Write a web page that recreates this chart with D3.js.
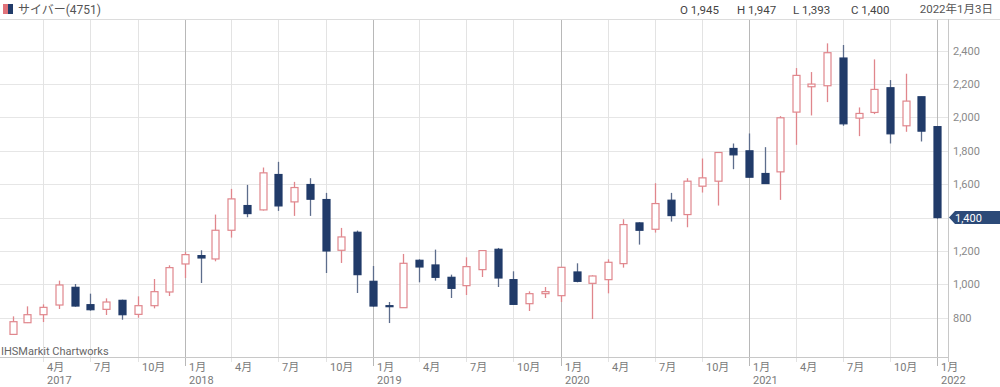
<!DOCTYPE html>
<html>
<head>
<meta charset="utf-8">
<script src="https://cdn.jsdelivr.net/npm/d3@7"></script>
<style>
  body { margin: 0; background: #fff; }
  svg { display: block; font-family: Roboto, "Noto Sans CJK JP", sans-serif; }
</style>
</head>
<body>
<script>
// monthly candles, Feb 2017 .. Jan 2022
const months = [
  "2017-02","2017-03","2017-04","2017-05","2017-06","2017-07","2017-08","2017-09","2017-10","2017-11","2017-12",
  "2018-01","2018-02","2018-03","2018-04","2018-05","2018-06","2018-07","2018-08","2018-09","2018-10","2018-11","2018-12",
  "2019-01","2019-02","2019-03","2019-04","2019-05","2019-06","2019-07","2019-08","2019-09","2019-10","2019-11","2019-12",
  "2020-01","2020-02","2020-03","2020-04","2020-05","2020-06","2020-07","2020-08","2020-09","2020-10","2020-11","2020-12",
  "2021-01","2021-02","2021-03","2021-04","2021-05","2021-06","2021-07","2021-08","2021-09","2021-10","2021-11","2021-12",
  "2022-01"
];
const open = [
  700,770,818,876,982,878,850,904,820,872,954,
  1122,1172,1152,1324,1472,1446,1658,1494,1598,1508,1204,1312,
  1018,872,860,1144,1116,1042,992,1088,1210,1028,884,944,
  932,1074,1006,1028,1124,1368,1330,1504,1418,1588,1618,1814,
  1800,1664,1674,2032,2184,2190,2356,1996,2030,2178,1950,2124,
  1945
];
const high = [
  808,868,880,1022,1002,944,916,908,928,1032,1114,
  1194,1204,1418,1572,1596,1700,1734,1614,1636,1548,1338,1322,
  1110,894,1182,1150,1208,1058,1162,1202,1218,1078,958,984,
  1102,1126,1054,1150,1390,1372,1606,1548,1636,1754,1790,1844,
  1904,1822,2008,2296,2272,2444,2434,2060,2348,2224,2262,2124,
  1947
];
const low = [
  700,768,774,852,866,842,816,788,800,856,930,
  1038,1008,1138,1280,1402,1442,1440,1410,1410,1068,1128,948,
  866,768,860,1012,1022,918,936,1044,984,878,840,918,
  894,1012,792,946,1100,1238,1310,1376,1342,1550,1472,1690,
  1640,1604,1506,1836,2012,2092,1950,1888,2020,1844,1914,1856,
  1393
];
const close = [
  776,818,862,996,870,848,894,818,872,956,1100,
  1178,1158,1324,1512,1424,1668,1470,1580,1510,1200,1284,1058,
  870,868,1126,1104,1042,976,1106,1202,1038,880,944,956,
  1102,1018,1050,1132,1358,1324,1484,1412,1618,1638,1790,1776,
  1642,1604,1998,2252,2200,2388,1962,2024,2168,1902,2098,1918,
  1400
];
const yTicks = [800, 1000, 1200, 1400, 1600, 1800, 2000, 2200, 2400];

const W = 1000, H = 387;
const plot = { left: 0, right: 948, top: 19, bottom: 357 };
const UP = "#e0868c", DOWN = "#213b69", DOWN_WICK = "#5d6d8c";

const parse = d3.timeParse("%Y-%m");
const candles = months.map((m, i) => ({
  date: parse(m), o: open[i], h: high[i], l: low[i], c: close[i]
}));

const x = d3.scaleTime()
  .domain([new Date(2017, 3, 1), new Date(2022, 0, 1)])
  .range([43.3, 937.3]);
const y = d3.scaleLinear()
  .domain([800, 2400])
  .range([317.7, 50.7]);

const svg = d3.select("body").append("svg")
  .attr("width", W)
  .attr("height", H);

// horizontal grid
svg.append("g")
  .selectAll("line")
  .data(yTicks)
  .join("line")
  .attr("x1", plot.left).attr("x2", plot.right)
  .attr("y1", d => Math.round(y(d)) + 0.5).attr("y2", d => Math.round(y(d)) + 0.5)
  .attr("stroke", "#e6e6e6");

// vertical grid, quarterly, January lines darker
const qTicks = d3.timeMonth.every(3).range(new Date(2017, 3, 1), new Date(2022, 0, 2));
svg.append("g")
  .selectAll("line")
  .data(qTicks)
  .join("line")
  .attr("x1", d => Math.round(x(d)) + 0.5).attr("x2", d => Math.round(x(d)) + 0.5)
  .attr("y1", plot.top).attr("y2", d => d.getMonth() === 0 ? plot.bottom + 9 : plot.bottom + 5)
  .attr("stroke", d => d.getMonth() === 0 ? "#b8b8b8" : "#e3e3e3");

// frame lines
svg.append("line")
  .attr("x1", 0).attr("x2", W).attr("y1", plot.top + 0.5).attr("y2", plot.top + 0.5)
  .attr("stroke", "#dcdcdc");
svg.append("line")
  .attr("x1", 0).attr("x2", plot.right).attr("y1", plot.bottom + 0.5).attr("y2", plot.bottom + 0.5)
  .attr("stroke", "#c8c8c8");
svg.append("line")
  .attr("x1", plot.right + 0.5).attr("x2", plot.right + 0.5).attr("y1", plot.top).attr("y2", plot.bottom + 5)
  .attr("stroke", "#c8c8c8");

// y labels
svg.append("g")
  .selectAll("text")
  .data(yTicks)
  .join("text")
  .attr("x", plot.right + 5)
  .attr("y", d => y(d) + 4)
  .attr("font-size", 11)
  .attr("fill", "#8a8a8a")
  .text(d => d3.format(",")(d));

// x labels
const xl = svg.append("g")
  .selectAll("g")
  .data(qTicks)
  .join("g")
  .attr("transform", d => `translate(${Math.round(x(d)) + 4},0)`);
xl.append("text")
  .attr("y", 371)
  .attr("font-size", 11)
  .attr("fill", "#7a7a7a")
  .text(d => (d.getMonth() + 1) + "月");
xl.filter((d, i) => i === 0 || d.getMonth() === 0)
  .append("text")
  .attr("y", 384)
  .attr("font-size", 11)
  .attr("fill", "#7a7a7a")
  .text(d => d.getFullYear());

// candles
const bw = 7;
const cg = svg.append("g")
  .selectAll("g")
  .data(candles)
  .join("g")
  .attr("transform", d => `translate(${Math.round(x(d.date))},0)`);
cg.append("line")
  .attr("x1", 0.5).attr("x2", 0.5)
  .attr("y1", d => y(d.h)).attr("y2", d => y(d.l))
  .attr("stroke", d => d.c >= d.o ? UP : DOWN_WICK)
  .attr("stroke-width", 1.3);
cg.append("rect")
  .attr("x", -bw / 2 + 0.5)
  .attr("y", d => y(Math.max(d.o, d.c)))
  .attr("width", bw)
  .attr("height", d => Math.max(1, Math.abs(y(d.o) - y(d.c))))
  .attr("fill", d => d.c >= d.o ? "#fff" : DOWN)
  .attr("stroke", d => d.c >= d.o ? UP : DOWN)
  .attr("stroke-width", 1.2);

// last price badge
const last = candles[candles.length - 1];
const ly = y(last.c);
svg.append("path")
  .attr("d", `M${plot.right + 1},${ly} L${plot.right + 7},${ly - 6.5} L${W},${ly - 6.5} L${W},${ly + 6.5} L${plot.right + 7},${ly + 6.5} Z`)
  .attr("fill", "#2c4a78");
svg.append("text")
  .attr("x", plot.right + 7)
  .attr("y", ly + 4)
  .attr("font-size", 11)
  .attr("fill", "#fff")
  .text(d3.format(",")(last.c));

// header
svg.append("rect").attr("x", 3).attr("y", 4).attr("width", 5).attr("height", 10).attr("fill", "#e0727a");
svg.append("rect").attr("x", 8).attr("y", 4).attr("width", 5).attr("height", 10).attr("fill", DOWN);
svg.append("text")
  .attr("x", 18).attr("y", 14)
  .attr("font-size", 12)
  .attr("fill", "#555")
  .text("サイバー(4751)");

const ohlc = [["O", last.o, 680], ["H", last.h, 737], ["L", last.l, 793], ["C", last.c, 851]];
svg.append("g")
  .selectAll("text")
  .data(ohlc)
  .join("text")
  .attr("x", d => d[2]).attr("y", 14)
  .attr("font-size", 11.5)
  .attr("fill", "#444")
  .text(d => d[0] + " " + d3.format(",")(d[1]));
svg.append("text")
  .attr("x", 993).attr("y", 13)
  .attr("text-anchor", "end")
  .attr("font-size", 11.5)
  .attr("fill", "#555")
  .text("2022年1月3日");

svg.append("text")
  .attr("x", 1).attr("y", 355)
  .attr("font-size", 11)
  .attr("fill", "#666")
  .text("IHSMarkit Chartworks");
</script>
</body>
</html>
